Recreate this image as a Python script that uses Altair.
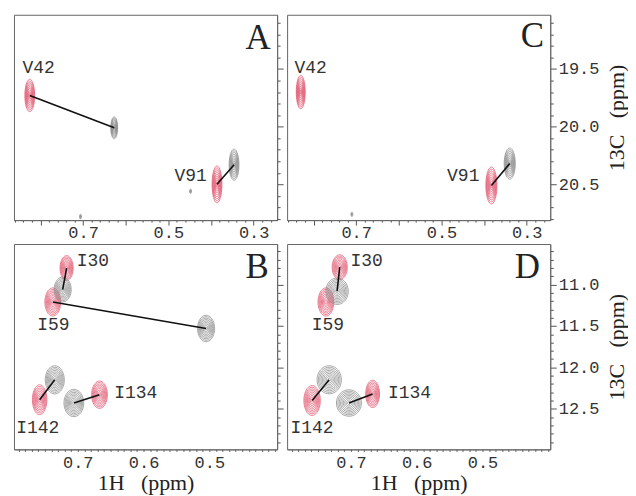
import altair as alt
import numpy as np
import pandas as pd

# ---------------- data (ppm) ----------------
# Panel A : Val methyls
A_res = ["V42", "V91"]
A_free_h = [0.825, 0.386]; A_free_c = [19.73, 20.50]
A_free_wh = [0.023, 0.023]; A_free_wc = [0.28, 0.32]
A_bound_res = ["V42", "V91"]
A_bound_h = [0.627, 0.346]; A_bound_c = [20.01, 20.33]
A_bound_wh = [0.016, 0.023]; A_bound_wc = [0.19, 0.27]
A_text_h = [0.804, 0.448]; A_text_c = [19.49, 20.43]
A_noise_h = [0.706, 0.448]; A_noise_c = [20.78, 20.56]

# Panel C
C_res = ["V42", "V91"]
C_free_h = [0.830, 0.383]; C_free_c = [19.70, 20.51]
C_free_wh = [0.021, 0.026]; C_free_wc = [0.29, 0.32]
C_bound_res = ["V91"]
C_bound_h = [0.340]; C_bound_c = [20.32]
C_bound_wh = [0.026]; C_bound_wc = [0.27]
C_text_h = [0.807, 0.449]; C_text_c = [19.49, 20.43]
C_noise_h = [0.710]; C_noise_c = [20.76]

# Panel B : Ile methyls
B_res = ["I30", "I59", "I134", "I142"]
B_free_h = [0.717, 0.738, 0.667, 0.758]; B_free_c = [10.80, 11.21, 12.33, 12.39]
B_free_wh = [0.020, 0.024, 0.024, 0.022]; B_free_wc = [0.30, 0.34, 0.33, 0.36]
B_bound_res = ["I30", "I59", "I134", "I142"]
B_bound_h = [0.723, 0.505, 0.706, 0.735]; B_bound_c = [11.06, 11.53, 12.43, 12.15]
B_bound_wh = [0.026, 0.026, 0.030, 0.029]; B_bound_wc = [0.30, 0.32, 0.33, 0.34]
B_text_h = [0.677, 0.737, 0.612, 0.761]; B_text_c = [10.71, 11.49, 12.31, 12.73]

# Panel D
D_res = ["I30", "I59", "I134", "I142"]
D_free_h = [0.717, 0.738, 0.667, 0.759]; D_free_c = [10.79, 11.21, 12.32, 12.40]
D_free_wh = [0.023, 0.024, 0.021, 0.025]; D_free_wc = [0.30, 0.34, 0.33, 0.36]
D_bound_res = ["I30", "I134", "I142"]
D_bound_h = [0.721, 0.703, 0.733]; D_bound_c = [11.08, 12.43, 12.15]
D_bound_wh = [0.034, 0.038, 0.037]; D_bound_wc = [0.32, 0.32, 0.34]
D_text_h = [0.676, 0.735, 0.611, 0.759]; D_text_c = [10.71, 11.49, 12.31, 12.73]

# axis tick labels
top_x_labels = [0.7, 0.5, 0.3]
bot_x_labels = [0.7, 0.6, 0.5]
top_y_labels = [19.5, 20.0, 20.5]
bot_y_labels = [11.0, 11.5, 12.0, 12.5]

TOP_X = [0.245, 0.862]
TOP_Y = [19.03, 20.81]
BOT_X = [0.397, 0.797]
BOT_Y = [10.51, 12.99]

RED = "#e2566f"
GRAY = "#8a8a8a"
LEVELS = [1.0, 0.89, 0.78, 0.67, 0.56, 0.45, 0.34, 0.23, 0.12]
NPT = 40


def contours(kind, res, h, c, wh, wc):
    rows = []
    t = np.linspace(0, 2 * np.pi, NPT + 1)
    for i in range(len(h)):
        for li, f in enumerate(LEVELS):
            for k, tt in enumerate(t):
                rows.append({"kind": kind, "ring": f"{kind}-{res[i]}-{li}", "o": k,
                             "h": h[i] + f * wh[i] / 2 * np.cos(tt),
                             "c": c[i] + f * wc[i] / 2 * np.sin(tt)})
    return rows


def noise(h, c):
    return contours("noise", [f"n{i}" for i in range(len(h))], h, c,
                    [0.004] * len(h), [0.04] * len(h))


def connectors(res, fh, fc, bres, bh, bc):
    rows = []
    for j, r in enumerate(bres):
        i = res.index(r)
        rows.append({"h": fh[i], "c": fc[i], "h2": bh[j], "c2": bc[j]})
    return pd.DataFrame(rows)


def major_test(vals, scale=100):
    arr = ",".join(str(int(round(v * scale))) for v in vals)
    return f"indexof([{arr}], round(datum.value*{scale})) >= 0"


def panel(cont, conn, labels_df, letter, letter_xy, xdom, ydom, xvals, xlabs, xmajor,
          xmajor_size, xlabpad, yvals, ylabs, show_ylab, xtitle, ytitle):
    xtest = major_test(xlabs)
    xmtest = major_test(xmajor)
    ytest = major_test(ylabs)
    xaxis = alt.Axis(values=xvals, orient="bottom", title=xtitle if xtitle else None,
                     labelExpr=f"{xtest} ? format(datum.value, '.1f') : ''",
                     tickSize={"condition": {"test": xmtest, "value": xmajor_size}, "value": 2},
                     labelOverlap=False, labelFlush=False, grid=False,
                     labelPadding=xlabpad, titlePadding=2)
    yargs = dict(values=yvals, orient="right", labels=show_ylab,
                 labelExpr=f"{ytest} ? format(datum.value, '.1f') : ''",
                 tickSize={"condition": {"test": ytest, "value": 6}, "value": 3},
                 labelOverlap=False, labelFlush=False, grid=False, labelPadding=2)
    if ytitle:
        yargs.update(title=ytitle, titleAngle=270, titleX=66, titleY=103,
                     titleAlign="center", titleBaseline="middle")
    else:
        yargs.update(title=None)
    yaxis = alt.Axis(**yargs)
    xs = alt.Scale(domain=xdom, reverse=True, nice=False, zero=False)
    ys = alt.Scale(domain=ydom, reverse=True, nice=False, zero=False)
    X = alt.X("h:Q", scale=xs, axis=xaxis)
    Y = alt.Y("c:Q", scale=ys, axis=yaxis)

    ring = alt.Chart(pd.DataFrame(cont)).mark_line(strokeWidth=0.75, clip=True).encode(
        x=X, y=Y, detail="ring:N", order="o:Q",
        color=alt.Color("kind:N", legend=None,
                        scale=alt.Scale(domain=["free", "bound", "noise"],
                                        range=[RED, GRAY, "#aaaaaa"])))
    rule = alt.Chart(conn).mark_rule(color="#111111", strokeWidth=1.6).encode(
        x=X, y=Y, x2="h2:Q", y2="c2:Q")
    txt = alt.Chart(labels_df).mark_text(font="Liberation Mono", fontSize=18,
                                         baseline="middle",
                                         color="#333333").encode(x=X, y=Y, text="lab:N")
    let = alt.Chart(pd.DataFrame({"t": [letter]})).mark_text(
        font="Liberation Serif", fontSize=35, color="#222222", baseline="middle").encode(
        x=alt.value(letter_xy[0]), y=alt.value(letter_xy[1]), text="t:N")
    return alt.layer(ring, rule, txt, let).properties(width=264, height=206)


top_xvals = [round(v, 2) for v in np.arange(0.26, 0.861, 0.02)]
top_xmajor = [0.3, 0.4, 0.5, 0.6, 0.7, 0.8]
bot_xvals = [round(v, 2) for v in np.arange(0.40, 0.791, 0.01)]
bot_xmajor = [0.4, 0.5, 0.6, 0.7]
top_yvals = [round(v, 1) for v in np.arange(19.1, 20.81, 0.1)]
bot_yvals = [round(v, 1) for v in np.arange(10.6, 12.91, 0.1)]

YT = "13C\u00a0\u00a0\u00a0(ppm)"
XT = "1H\u00a0\u00a0\u00a0(ppm)"

A = panel(contours("free", A_res, A_free_h, A_free_c, A_free_wh, A_free_wc)
          + contours("bound", A_bound_res, A_bound_h, A_bound_c, A_bound_wh, A_bound_wc)
          + noise(A_noise_h, A_noise_c),
          connectors(A_res, A_free_h, A_free_c, A_bound_res, A_bound_h, A_bound_c),
          pd.DataFrame({"h": A_text_h, "c": A_text_c, "lab": A_res}),
          "A", (245, 23), TOP_X, TOP_Y, top_xvals, top_x_labels, top_xmajor, 5, -1,
          top_yvals, top_y_labels, False, None, None)

C = panel(contours("free", C_res, C_free_h, C_free_c, C_free_wh, C_free_wc)
          + contours("bound", C_bound_res, C_bound_h, C_bound_c, C_bound_wh, C_bound_wc)
          + noise(C_noise_h, C_noise_c),
          connectors(C_res, C_free_h, C_free_c, C_bound_res, C_bound_h, C_bound_c),
          pd.DataFrame({"h": C_text_h, "c": C_text_c, "lab": C_res}),
          "C", (246, 21), TOP_X, TOP_Y, top_xvals, top_x_labels, top_xmajor, 5, -1,
          top_yvals, top_y_labels, True, None, YT)

B = panel(contours("free", B_res, B_free_h, B_free_c, B_free_wh, B_free_wc)
          + contours("bound", B_bound_res, B_bound_h, B_bound_c, B_bound_wh, B_bound_wc),
          connectors(B_res, B_free_h, B_free_c, B_bound_res, B_bound_h, B_bound_c),
          pd.DataFrame({"h": B_text_h, "c": B_text_c, "lab": B_res}),
          "B", (244, 23), BOT_X, BOT_Y, bot_xvals, bot_x_labels, bot_xmajor, 2, 3,
          bot_yvals, bot_y_labels, False, XT, None)

D = panel(contours("free", D_res, D_free_h, D_free_c, D_free_wh, D_free_wc)
          + contours("bound", D_bound_res, D_bound_h, D_bound_c, D_bound_wh, D_bound_wc),
          connectors(D_res, D_free_h, D_free_c, D_bound_res, D_bound_h, D_bound_c),
          pd.DataFrame({"h": D_text_h, "c": D_text_c, "lab": D_res}),
          "D", (241, 23), BOT_X, BOT_Y, bot_xvals, bot_x_labels, bot_xmajor, 2, 3,
          bot_yvals, bot_y_labels, True, XT, YT)

chart = alt.concat(A, C, B, D, columns=2, spacing={"row": 24, "column": 10},
                   bounds="flush").properties(
    padding={"left": 5, "top": 4, "right": 0, "bottom": 0}, background="white"
).configure_view(stroke="#666666", strokeWidth=1).configure_axis(
    labelFont="Liberation Mono", labelFontSize=17, labelColor="#333333",
    titleFont="Liberation Serif", titleFontSize=22, titleFontWeight="normal",
    titleColor="#222222", tickColor="#555555", domainColor="#666666",
    tickWidth=1)

chart.save("out.html", embed_options={"renderer": "svg", "actions": False})
